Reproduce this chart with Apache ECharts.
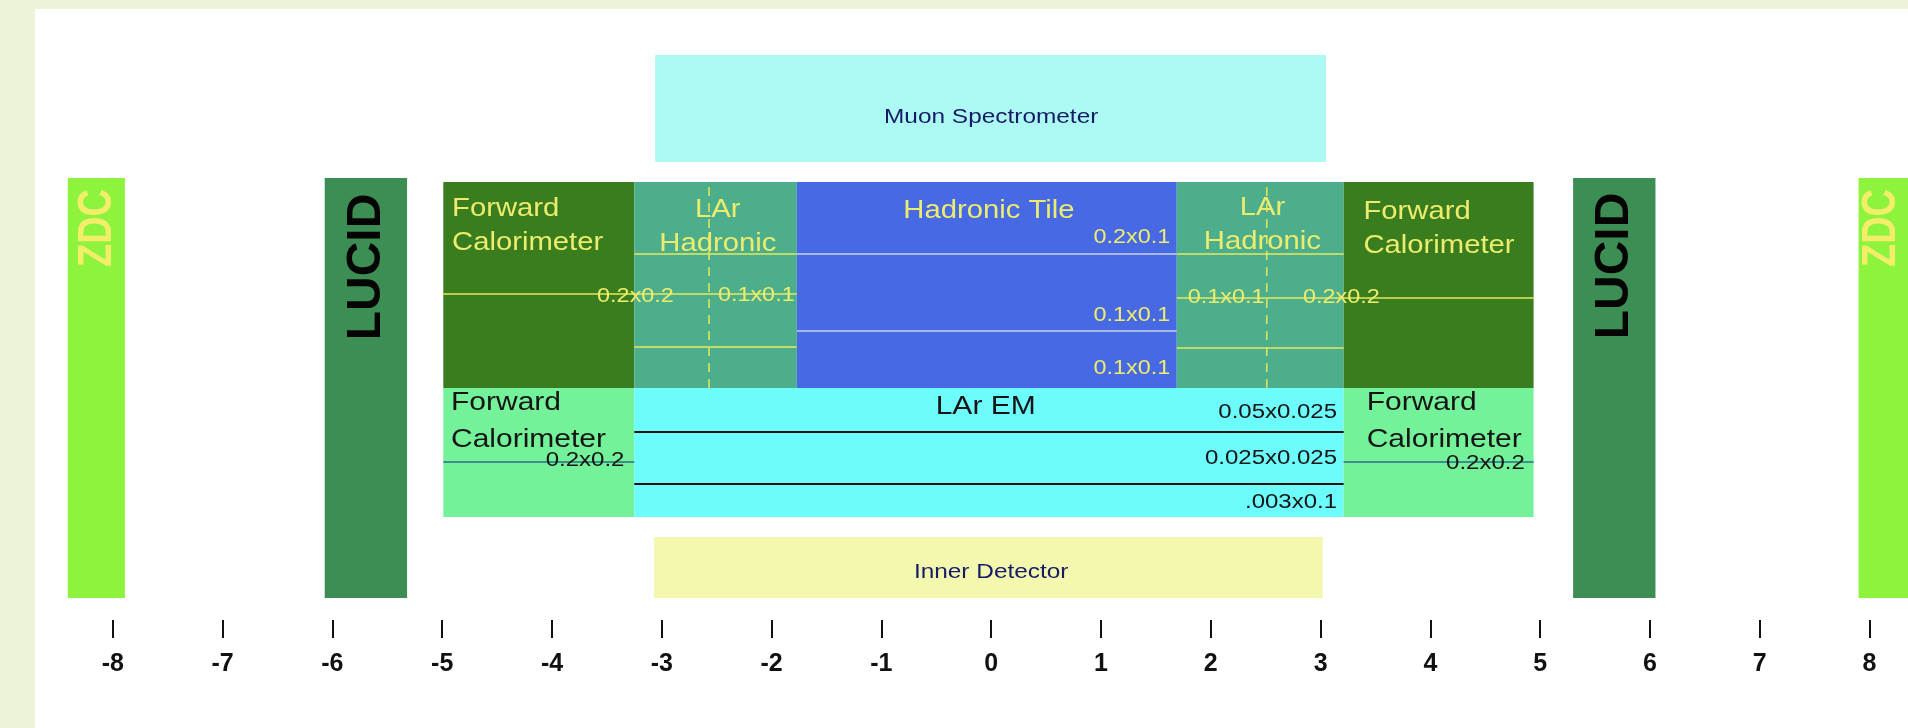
<!DOCTYPE html>
<html>
<head>
<meta charset="utf-8">
<script src="https://cdn.jsdelivr.net/npm/echarts@6/dist/echarts.min.js"></script>
<style>
html,body{margin:0;padding:0;background:#edf3d9;}
#chart{width:1908px;height:728px;}
</style>
</head>
<body>
<div id="chart"></div>
<script>
// ---------- DATA (pseudorapidity coverage) ----------
const tickValues = [-8,-7,-6,-5,-4,-3,-2,-1,0,1,2,3,4,5,6,7,8];

const boxNames    = ['Muon Spectrometer','ZDC -','ZDC +','LUCID -','LUCID +','FCal had -','LAr had -','Hadronic Tile','LAr had +','FCal had +','FCal EM -','LAr EM','FCal EM +','Inner Detector'];
const boxEtaMin   = [-3.06,-8.41, 7.90,-6.07, 5.30,-4.99,-3.25,-1.77, 1.69, 3.21,-4.99,-3.25, 3.21,-3.07];
const boxEtaMax   = [ 3.05,-7.89, 8.42,-5.32, 6.05,-3.25,-1.77, 1.69, 3.21, 4.94,-3.25, 3.21, 4.94, 3.02];
const boxLevelMin = [45.8, 2.2, 2.2, 2.2, 2.2,23.2,23.2,23.2,23.2,23.2,10.3,10.3,10.3, 2.2];
const boxLevelMax = [56.5,44.2,44.2,44.2,44.2,43.8,43.8,43.8,43.8,43.8,23.2,23.2,23.2, 8.3];

const segEtaFrom   = [-3.25,-3.25,-4.99, 1.69, 1.69, 1.69,-1.77,-1.77,-3.25,-3.25,-4.99, 3.21,-2.57, 2.51];
const segEtaTo     = [-1.77,-1.77,-1.77, 3.21, 3.21, 4.94, 1.69, 1.69, 3.21, 3.21,-3.25, 4.94,-2.57, 2.51];
const segLevelFrom = [36.6, 27.3, 32.6, 36.6, 27.2, 32.2, 36.6, 28.9, 18.8, 13.6, 15.8, 15.8, 23.2, 23.2];
const segLevelTo   = [36.6, 27.3, 32.6, 36.6, 27.2, 32.2, 36.6, 28.9, 18.8, 13.6, 15.8, 15.8, 43.8, 43.8];

const labelTexts = ['Muon Spectrometer','Inner Detector','ZDC','ZDC','LUCID','LUCID',
  'Forward\nCalorimeter','Forward\nCalorimeter','LAr\nHadronic','LAr\nHadronic','Hadronic Tile',
  '0.2x0.1','0.1x0.1','0.1x0.1','0.2x0.2','0.1x0.1','0.1x0.1','0.2x0.2',
  'Forward\nCalorimeter','Forward\nCalorimeter','0.2x0.2','0.2x0.2','LAr EM','0.05x0.025','0.025x0.025','.003x0.1'];
const labelEta   = [0, 0, -8.14, 8.11, -5.69, 5.68, -4.91, 3.39, -2.49, 2.47, -0.02,
  1.63, 1.63, 1.63, -2.89, -1.79, 1.79, 2.84, -4.92, 3.42, -3.34, 4.86, -0.05, 3.15, 3.15, 3.15];
const labelLevel = [50.3, 4.8, 39.2, 39.2, 35.3, 35.4, 39.35, 39.05, 39.3, 39.5, 40.9,
  38.3, 30.5, 25.2, 32.4, 32.5, 32.3, 32.3, 19.85, 19.85, 16.0, 15.7, 21.3, 20.8, 16.2, 11.8];

// ---------- STYLES ----------
const boxFill = ['#adfaf5','#8ef33d','#8ef33d','#3d8e54','#3d8e54','#3a7d1e','#4dae8c','#4769e3','#4dae8c','#3a7d1e','#74f29a','#6cfcfc','#74f29a','#f3f8ae'];
const segKind = ['yellow','yellow','yellow','yellow','yellow','yellow','tile','tile','black','black','teal','teal','dash','dash'];
const segStyles = {
  yellow:{stroke:'#e4e85c', lineWidth:1.5},
  tile:{stroke:'#a9b6e8', lineWidth:2},
  black:{stroke:'#111111', lineWidth:2},
  teal:{stroke:'#2d6d86', lineWidth:1.5},
  dash:{stroke:'#e4e85c', lineWidth:1.5, lineDash:[9,7]}
};
const labelKind = ['navy','navy','zdc','zdc','lucid','lucid','yellowBig','yellowBig','yellowBig','yellowBig','yellowBig',
  'yellowNum','yellowNum','yellowNum','yellowNum','yellowNum','yellowNum','yellowNum',
  'black','black','blackNum','blackNum','black','blackNum','blackNum','blackNum'];
const labelAlign = ['center','center','center','center','center','center','left','left','center','center','center',
  'right','right','right','right','right','left','left','left','left','right','right','center','right','right','right'];
const FONT = "'Liberation Sans', Arial, Helvetica, sans-serif";
const labelStyles = {
  navy:{size:20, weight:'normal', color:'#161b66', sx:1.22, sy:1, rot:0, lh:24},
  yellowBig:{size:25, weight:'normal', color:'#ecec6e', sx:1.17, sy:1, rot:0, lh:34},
  yellowNum:{size:20, weight:'normal', color:'#ecec6e', sx:1.17, sy:1, rot:0, lh:24},
  black:{size:25, weight:'normal', color:'#151515', sx:1.2, sy:1, rot:0, lh:37},
  blackNum:{size:20, weight:'normal', color:'#151515', sx:1.2, sy:1, rot:0, lh:24},
  zdc:{size:38, weight:'bold', color:'#f2ee6a', sx:1, sy:1.25, rot:Math.PI/2, lh:40},
  lucid:{size:48, weight:'bold', color:'#050505', sx:1, sy:1, rot:Math.PI/2, lh:50}
};

// ---------- BUILD ----------
const boxData = boxNames.map((n,i)=>({name:n, value:[boxEtaMin[i], boxEtaMax[i], boxLevelMin[i], boxLevelMax[i], i]}));
const segData = segEtaFrom.map((v,i)=>[v, segEtaTo[i], segLevelFrom[i], segLevelTo[i], i]);
const labelData = labelTexts.map((t,i)=>[labelEta[i], labelLevel[i], i]);

const chart = echarts.init(document.getElementById('chart'), null, {renderer:'canvas'});
chart.setOption({
  backgroundColor:'#edf3d9',
  animation:false,
  graphic:[{type:'rect', z:-10, silent:true, shape:{x:35, y:9, width:1873, height:719}, style:{fill:'#ffffff'}}],
  grid:{left:3, right:0, top:10, bottom:108},
  xAxis:{
    type:'value', min:-9, max:8.35,
    axisLine:{show:false},
    splitLine:{show:false},
    axisTick:{show:true, customValues:tickValues, length:18, lineStyle:{color:'#111', width:2}},
    axisLabel:{customValues:tickValues, margin:32, fontSize:25, fontWeight:'bold', color:'#111', fontFamily:FONT}
  },
  yAxis:{type:'value', min:0, max:61, show:false},
  series:[
    {
      type:'custom', name:'boxes', clip:true, z:2,
      data:boxData,
      renderItem:function(params, api){
        const p0 = api.coord([api.value(0), api.value(3)]);
        const p1 = api.coord([api.value(1), api.value(2)]);
        return {type:'rect', shape:{x:p0[0], y:p0[1], width:p1[0]-p0[0], height:p1[1]-p0[1]},
          style:{fill:boxFill[api.value(4)]}};
      }
    },
    {
      type:'custom', name:'cells', clip:true, z:3,
      data:segData,
      renderItem:function(params, api){
        const a = api.coord([api.value(0), api.value(2)]);
        const b = api.coord([api.value(1), api.value(3)]);
        const s = segStyles[segKind[api.value(4)]];
        return {type:'line', shape:{x1:a[0], y1:a[1], x2:b[0], y2:b[1]},
          style:Object.assign({fill:null}, s)};
      }
    },
    {
      type:'custom', name:'labels', clip:true, z:4,
      data:labelData,
      renderItem:function(params, api){
        const i = api.value(2);
        const p = api.coord([api.value(0), api.value(1)]);
        const st = labelStyles[labelKind[i]];
        return {type:'text', x:p[0], y:p[1], rotation:st.rot, scaleX:st.sx, scaleY:st.sy,
          style:{text:labelTexts[i], fill:st.color, fontSize:st.size, fontWeight:st.weight,
            fontFamily:FONT, align:labelAlign[i], verticalAlign:'middle', lineHeight:st.lh}};
      }
    }
  ]
});
</script>
</body>
</html>
